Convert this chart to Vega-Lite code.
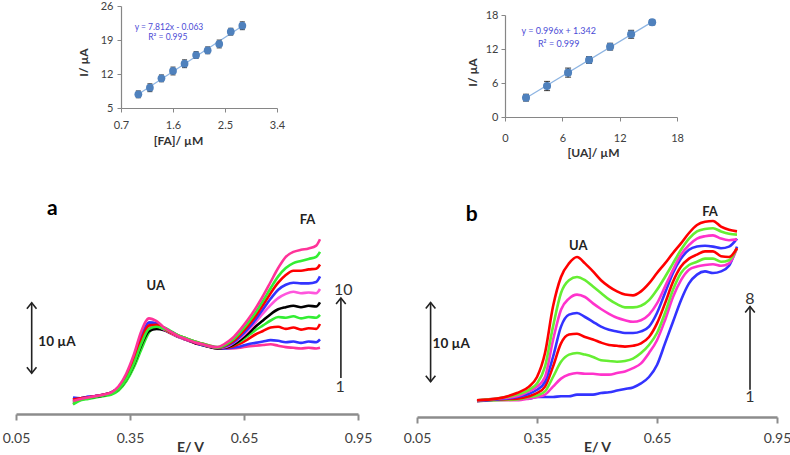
{
"$schema": "https://vega.github.io/schema/vega-lite/v6.json",
"width": 790, "height": 455, "autosize": "none", "padding": 0, "background": "white",
"config": {"view": {"stroke": null}, "font": "Lato", "axis": {"grid": false, "labelFont": "Lato", "titleFont": "Lato"}, "text": {"font": "Lato"}},
"datasets": {
"fa": [{"c":1.0,"I":7.82,"err":0.7},{"c":1.2,"I":9.18,"err":0.8},{"c":1.4,"I":11.11,"err":0.7},{"c":1.6,"I":12.62,"err":0.8},{"c":1.8,"I":14.12,"err":0.8},{"c":2.0,"I":15.91,"err":0.7},{"c":2.2,"I":16.88,"err":0.7},{"c":2.4,"I":18.18,"err":0.8},{"c":2.6,"I":20.71,"err":0.7},{"c":2.8,"I":21.94,"err":0.8}],
"ua": [{"c":2.2,"I":3.41,"err":0.6},{"c":4.4,"I":5.47,"err":0.8},{"c":6.6,"I":7.83,"err":0.8},{"c":8.8,"I":10.06,"err":0.6},{"c":11.0,"I":12.41,"err":0.6},{"c":13.2,"I":14.59,"err":0.7},{"c":15.4,"I":16.71,"err":0.45}],
"pa": [
{"E":0.20,"c01":1.6,"c02":2.5,"c03":2.2,"c04":1.5,"c05":2.0,"c06":2.1,"c07":2.3,"c08":2.2,"c09":1.8,"c10":2.0},
{"E":0.22,"c01":2.2,"c02":2.4,"c03":2.4,"c04":2.1,"c05":2.3,"c06":2.3,"c07":2.4,"c08":2.4,"c09":2.2,"c10":2.3},
{"E":0.24,"c01":2.4,"c02":2.6,"c03":2.5,"c04":2.3,"c05":2.5,"c06":2.5,"c07":2.6,"c08":2.5,"c09":2.4,"c10":2.5},
{"E":0.26,"c01":2.6,"c02":2.7,"c03":2.7,"c04":2.5,"c05":2.6,"c06":2.7,"c07":2.7,"c08":2.7,"c09":2.6,"c10":2.7},
{"E":0.28,"c01":2.8,"c02":2.9,"c03":2.9,"c04":2.7,"c05":2.8,"c06":2.9,"c07":2.9,"c08":2.9,"c09":2.8,"c10":2.9},
{"E":0.30,"c01":3.0,"c02":3.2,"c03":3.1,"c04":2.9,"c05":3.1,"c06":3.1,"c07":3.2,"c08":3.2,"c09":3.0,"c10":3.2},
{"E":0.32,"c01":3.6,"c02":3.9,"c03":3.8,"c04":3.5,"c05":3.7,"c06":3.8,"c07":4.0,"c08":3.9,"c09":3.7,"c10":4.1},
{"E":0.34,"c01":4.9,"c02":5.6,"c03":5.3,"c04":4.8,"c05":5.1,"c06":5.3,"c07":5.6,"c08":5.5,"c09":5.1,"c10":5.9},
{"E":0.36,"c01":7.0,"c02":8.0,"c03":7.5,"c04":6.8,"c05":7.2,"c06":7.6,"c07":8.1,"c08":7.8,"c09":7.3,"c10":8.6},
{"E":0.38,"c01":9.6,"c02":11.0,"c03":10.3,"c04":9.4,"c05":10.0,"c06":10.5,"c07":11.2,"c08":10.8,"c09":10.2,"c10":12.0},
{"E":0.40,"c01":11.9,"c02":13.2,"c03":12.5,"c04":11.8,"c05":12.0,"c06":12.6,"c07":13.2,"c08":12.8,"c09":12.3,"c10":13.8},
{"E":0.42,"c01":12.5,"c02":13.0,"c03":12.9,"c04":12.6,"c05":12.3,"c06":12.7,"c07":13.1,"c08":12.9,"c09":12.6,"c10":13.4},
{"E":0.44,"c01":12.3,"c02":12.4,"c03":12.4,"c04":12.5,"c05":12.1,"c06":12.2,"c07":12.4,"c08":12.3,"c09":12.3,"c10":12.5},
{"E":0.46,"c01":11.7,"c02":11.8,"c03":11.8,"c04":11.9,"c05":11.6,"c06":11.6,"c07":11.8,"c08":11.7,"c09":11.8,"c10":11.8},
{"E":0.48,"c01":11.2,"c02":11.2,"c03":11.3,"c04":11.3,"c05":11.1,"c06":11.1,"c07":11.2,"c08":11.2,"c09":11.3,"c10":11.2},
{"E":0.50,"c01":10.7,"c02":10.8,"c03":10.9,"c04":10.9,"c05":10.7,"c06":10.7,"c07":10.8,"c08":10.8,"c09":10.9,"c10":10.8},
{"E":0.52,"c01":10.3,"c02":10.4,"c03":10.5,"c04":10.5,"c05":10.3,"c06":10.4,"c07":10.4,"c08":10.4,"c09":10.5,"c10":10.4},
{"E":0.54,"c01":10.0,"c02":10.1,"c03":10.2,"c04":10.2,"c05":10.0,"c06":10.1,"c07":10.0,"c08":10.1,"c09":10.1,"c10":10.1},
{"E":0.56,"c01":9.7,"c02":9.8,"c03":9.9,"c04":9.9,"c05":9.7,"c06":9.8,"c07":9.8,"c08":9.8,"c09":9.8,"c10":9.8},
{"E":0.58,"c01":9.5,"c02":9.6,"c03":9.6,"c04":9.7,"c05":9.5,"c06":9.6,"c07":9.6,"c08":9.6,"c09":9.6,"c10":9.7},
{"E":0.60,"c01":9.5,"c02":9.5,"c03":9.6,"c04":9.7,"c05":9.6,"c06":9.7,"c07":9.8,"c08":9.9,"c09":10.0,"c10":10.2},
{"E":0.62,"c01":9.5,"c02":9.6,"c03":9.8,"c04":10.0,"c05":10.0,"c06":10.2,"c07":10.3,"c08":10.5,"c09":10.7,"c10":11.0},
{"E":0.64,"c01":9.6,"c02":9.8,"c03":10.2,"c04":10.5,"c05":10.7,"c06":11.0,"c07":11.2,"c08":11.5,"c09":11.8,"c10":12.2},
{"E":0.66,"c01":9.8,"c02":10.1,"c03":10.8,"c04":11.3,"c05":11.6,"c06":12.0,"c07":12.3,"c08":12.7,"c09":13.1,"c10":13.6},
{"E":0.68,"c01":9.9,"c02":10.3,"c03":11.5,"c04":12.1,"c05":12.6,"c06":13.2,"c07":13.6,"c08":14.1,"c09":14.6,"c10":15.2},
{"E":0.70,"c01":10.0,"c02":10.5,"c03":12.0,"c04":12.8,"c05":13.5,"c06":14.5,"c07":15.1,"c08":15.7,"c09":16.3,"c10":17.0},
{"E":0.72,"c01":10.1,"c02":10.7,"c03":12.5,"c04":13.5,"c05":14.4,"c06":15.7,"c07":16.6,"c08":17.4,"c09":18.1,"c10":19.0},
{"E":0.74,"c01":9.9,"c02":10.6,"c03":12.6,"c04":14.0,"c05":15.1,"c06":16.7,"c07":17.9,"c08":18.9,"c09":19.8,"c10":21.0},
{"E":0.76,"c01":9.7,"c02":10.4,"c03":12.3,"c04":13.9,"c05":15.4,"c06":17.3,"c07":18.6,"c08":20.0,"c09":21.0,"c10":22.6},
{"E":0.78,"c01":9.6,"c02":10.5,"c03":12.5,"c04":14.1,"c05":15.6,"c06":17.6,"c07":18.9,"c08":20.6,"c09":21.7,"c10":23.3},
{"E":0.80,"c01":9.5,"c02":10.3,"c03":12.2,"c04":13.8,"c05":15.4,"c06":17.4,"c07":18.8,"c08":20.6,"c09":22.0,"c10":23.6},
{"E":0.82,"c01":9.6,"c02":10.5,"c03":12.4,"c04":14.0,"c05":15.6,"c06":17.5,"c07":18.8,"c08":20.8,"c09":22.3,"c10":23.8},
{"E":0.84,"c01":9.5,"c02":10.4,"c03":12.3,"c04":13.9,"c05":15.5,"c06":17.4,"c07":19.0,"c08":20.9,"c09":22.6,"c10":24.2},
{"E":0.85,"c01":9.6,"c02":10.8,"c03":13.0,"c04":14.3,"c05":16.1,"c06":18.0,"c07":19.8,"c08":21.5,"c09":23.3,"c10":25.1}
],
"pb": [
{"E":0.20,"b1":2.0,"b2":2.0,"b3":2.0,"b4":2.0,"b5":2.0,"b6":2.1,"b7":2.1,"b8":2.1},
{"E":0.25,"b1":2.2,"b2":2.1,"b3":2.1,"b4":2.2,"b5":2.2,"b6":2.3,"b7":2.3,"b8":2.3},
{"E":0.30,"b1":2.3,"b2":2.1,"b3":2.2,"b4":2.3,"b5":2.5,"b6":2.6,"b7":2.8,"b8":3.0},
{"E":0.33,"b1":2.3,"b2":2.3,"b3":2.5,"b4":2.6,"b5":2.9,"b6":3.2,"b7":3.4,"b8":3.8},
{"E":0.35,"b1":2.5,"b2":2.5,"b3":2.7,"b4":3.0,"b5":3.4,"b6":3.8,"b7":4.2,"b8":5.0},
{"E":0.37,"b1":2.5,"b2":2.8,"b3":3.2,"b4":3.8,"b5":4.4,"b6":5.0,"b7":6.3,"b8":8.0},
{"E":0.39,"b1":2.5,"b2":3.8,"b3":5.0,"b4":6.3,"b5":7.5,"b6":9.6,"b7":11.3,"b8":13.8},
{"E":0.41,"b1":2.6,"b2":4.8,"b3":6.9,"b4":9.2,"b5":11.3,"b6":13.4,"b7":15.5,"b8":17.5},
{"E":0.43,"b1":2.6,"b2":5.3,"b3":7.8,"b4":10.3,"b5":12.8,"b6":14.8,"b7":17.1,"b8":19.2},
{"E":0.45,"b1":2.8,"b2":5.5,"b3":8.0,"b4":10.4,"b5":13.0,"b6":15.3,"b7":17.5,"b8":20.0},
{"E":0.47,"b1":2.8,"b2":5.4,"b3":7.8,"b4":10.0,"b5":12.5,"b6":15.0,"b7":17.1,"b8":19.2},
{"E":0.49,"b1":2.8,"b2":5.4,"b3":7.5,"b4":9.7,"b5":11.9,"b6":14.2,"b7":16.3,"b8":18.2},
{"E":0.51,"b1":3.0,"b2":5.3,"b3":7.1,"b4":9.3,"b5":11.3,"b6":13.5,"b7":15.5,"b8":17.1},
{"E":0.53,"b1":3.1,"b2":5.3,"b3":7.0,"b4":9.0,"b5":10.9,"b6":12.9,"b7":14.7,"b8":16.3},
{"E":0.55,"b1":3.3,"b2":5.5,"b3":6.9,"b4":8.9,"b5":10.7,"b6":12.4,"b7":14.1,"b8":15.7},
{"E":0.57,"b1":3.5,"b2":5.7,"b3":7.0,"b4":8.8,"b5":10.5,"b6":12.1,"b7":13.7,"b8":15.3},
{"E":0.59,"b1":3.7,"b2":6.1,"b3":7.3,"b4":8.9,"b5":10.5,"b6":11.9,"b7":13.7,"b8":15.2},
{"E":0.61,"b1":4.2,"b2":6.7,"b3":8.0,"b4":9.2,"b5":10.7,"b6":12.1,"b7":13.9,"b8":15.7},
{"E":0.63,"b1":5.0,"b2":8.0,"b3":9.0,"b4":10.0,"b5":11.3,"b6":12.8,"b7":14.6,"b8":16.7},
{"E":0.65,"b1":6.5,"b2":9.6,"b3":10.5,"b4":11.7,"b5":13.0,"b6":14.2,"b7":15.9,"b8":18.0},
{"E":0.67,"b1":9.2,"b2":12.1,"b3":13.0,"b4":14.2,"b5":15.5,"b6":16.3,"b7":17.5,"b8":19.2},
{"E":0.69,"b1":11.9,"b2":15.0,"b3":15.9,"b4":16.9,"b5":18.0,"b6":18.4,"b7":19.2,"b8":20.5},
{"E":0.71,"b1":14.6,"b2":17.1,"b3":18.0,"b4":18.8,"b5":19.8,"b6":20.3,"b7":20.9,"b8":21.7},
{"E":0.73,"b1":16.7,"b2":18.4,"b3":19.0,"b4":19.8,"b5":20.9,"b6":21.5,"b7":22.3,"b8":23.0},
{"E":0.75,"b1":17.8,"b2":18.8,"b3":19.4,"b4":20.3,"b5":21.3,"b6":22.3,"b7":23.2,"b8":24.0},
{"E":0.77,"b1":18.2,"b2":19.0,"b3":19.8,"b4":20.7,"b5":21.4,"b6":22.6,"b7":23.5,"b8":24.4},
{"E":0.79,"b1":18.0,"b2":19.1,"b3":19.8,"b4":20.7,"b5":21.3,"b6":22.7,"b7":23.6,"b8":24.5},
{"E":0.81,"b1":18.2,"b2":18.9,"b3":19.4,"b4":20.1,"b5":21.1,"b6":22.3,"b7":23.2,"b8":23.8},
{"E":0.83,"b1":18.9,"b2":19.2,"b3":19.6,"b4":20.0,"b5":21.3,"b6":22.1,"b7":22.9,"b8":23.4},
{"E":0.85,"b1":21.3,"b2":21.1,"b3":21.1,"b4":21.1,"b5":22.3,"b6":22.2,"b7":22.8,"b8":23.2}
]
},
"layer": [
{"data": {"name": "fa"}, "transform": [{"regression": "I", "on": "c"}], "mark": {"type": "line", "color": "#8DB4E2", "strokeWidth": 1.2},
 "encoding": {"x": {"field": "c", "type": "quantitative", "scale": {"domain": [0.7, 3.4], "range": [121, 277], "nice": false, "zero": false}, "axis": null},
  "y": {"field": "I", "type": "quantitative", "scale": {"domain": [5, 26], "range": [108, 6], "nice": false, "zero": false}, "axis": null}}},
{"data": {"name": "fa"}, "mark": {"type": "errorbar", "ticks": {"size": 5}, "color": "#111111", "thickness": 1.2},
 "encoding": {"x": {"field": "c", "type": "quantitative", "scale": {"domain": [0.7, 3.4], "range": [121, 277], "nice": false, "zero": false}, "axis": null},
  "y": {"field": "I", "type": "quantitative", "scale": {"domain": [5, 26], "range": [108, 6], "nice": false, "zero": false}, "axis": null},
  "yError": {"field": "err"}}},
{"data": {"name": "fa"}, "mark": {"type": "point", "filled": true, "shape": "circle", "size": 60, "color": "#4F81BD", "opacity": 1},
 "encoding": {"x": {"field": "c", "type": "quantitative", "scale": {"domain": [0.7, 3.4], "range": [121, 277], "nice": false, "zero": false},
   "axis": {"orient": "bottom", "offset": -347, "values": [0.7, 1.6, 2.5, 3.4], "format": ".1f", "title": "[FA]/ µM", "titleX": 178, "titleY": 32, "titleBaseline": "middle", "titleAlign": "center", "titleFontSize": 12, "titleFontWeight": "bold", "titleColor": "#333333", "labelFontSize": 11, "labelColor": "#404040", "labelPadding": 7, "labelFlush": false, "labelOverlap": false, "tickSize": 4, "tickColor": "#868686", "domainColor": "#868686", "domainWidth": 1.2}},
  "y": {"field": "I", "type": "quantitative", "scale": {"domain": [5, 26], "range": [108, 6], "nice": false, "zero": false},
   "axis": {"orient": "left", "offset": -121, "values": [5, 12, 19, 26], "title": "I/ µA", "titleX": -38, "titleY": 62, "titleBaseline": "middle", "titleAlign": "center", "titleFontSize": 12, "titleFontWeight": "bold", "titleColor": "#333333", "labelFontSize": 11, "labelColor": "#404040", "labelPadding": 4, "labelFlush": false, "labelOverlap": false, "tickSize": 4, "tickColor": "#868686", "domainColor": "#868686", "domainWidth": 1.2}}}},
{"data": {"values": [{}]}, "mark": {"type": "text", "text": "y = 7.812x - 0.063", "fontSize": 8.5, "color": "#4B4BD6", "align": "center", "baseline": "middle"},
 "encoding": {"x": {"datum": 1.53, "type": "quantitative", "scale": {"domain": [0.7, 3.4], "range": [121, 277], "nice": false, "zero": false}, "axis": null},
  "y": {"datum": 21.7, "type": "quantitative", "scale": {"domain": [5, 26], "range": [108, 6], "nice": false, "zero": false}, "axis": null}}},
{"data": {"values": [{}]}, "mark": {"type": "text", "text": "R² = 0.995", "fontSize": 8.5, "color": "#4B4BD6", "align": "center", "baseline": "middle"},
 "encoding": {"x": {"datum": 1.51, "type": "quantitative", "scale": {"domain": [0.7, 3.4], "range": [121, 277], "nice": false, "zero": false}, "axis": null},
  "y": {"datum": 19.6, "type": "quantitative", "scale": {"domain": [5, 26], "range": [108, 6], "nice": false, "zero": false}, "axis": null}}},
{"data": {"name": "ua"}, "transform": [{"regression": "I", "on": "c"}], "mark": {"type": "line", "color": "#8DB4E2", "strokeWidth": 1.2},
 "encoding": {"x": {"field": "c", "type": "quantitative", "scale": {"domain": [0, 18], "range": [505, 677], "nice": false, "zero": false}, "axis": null},
  "y": {"field": "I", "type": "quantitative", "scale": {"domain": [0, 18], "range": [117, 15], "nice": false, "zero": false}, "axis": null}}},
{"data": {"name": "ua"}, "mark": {"type": "errorbar", "ticks": {"size": 6}, "color": "#111111", "thickness": 1.2},
 "encoding": {"x": {"field": "c", "type": "quantitative", "scale": {"domain": [0, 18], "range": [505, 677], "nice": false, "zero": false}, "axis": null},
  "y": {"field": "I", "type": "quantitative", "scale": {"domain": [0, 18], "range": [117, 15], "nice": false, "zero": false}, "axis": null},
  "yError": {"field": "err"}}},
{"data": {"name": "ua"}, "mark": {"type": "point", "filled": true, "shape": "circle", "size": 65, "color": "#4F81BD", "opacity": 1},
 "encoding": {"x": {"field": "c", "type": "quantitative", "scale": {"domain": [0, 18], "range": [505, 677], "nice": false, "zero": false},
   "axis": {"orient": "bottom", "offset": -338, "values": [0, 6, 12, 18], "title": "[UA]/ µM", "titleX": 593, "titleY": 35, "titleBaseline": "middle", "titleAlign": "center", "titleFontSize": 12, "titleFontWeight": "bold", "titleColor": "#333333", "labelFontSize": 11, "labelColor": "#404040", "labelPadding": 11, "labelFlush": false, "labelOverlap": false, "tickSize": 4, "tickColor": "#868686", "domainColor": "#868686", "domainWidth": 1.2}},
  "y": {"field": "I", "type": "quantitative", "scale": {"domain": [0, 18], "range": [117, 15], "nice": false, "zero": false},
   "axis": {"orient": "left", "offset": -505, "values": [0, 6, 12, 18], "title": "I/ µA", "titleX": -33, "titleY": 72, "titleBaseline": "middle", "titleAlign": "center", "titleFontSize": 12, "titleFontWeight": "bold", "titleColor": "#333333", "labelFontSize": 11, "labelColor": "#404040", "labelPadding": 3, "labelFlush": false, "labelOverlap": false, "tickSize": 4, "tickColor": "#868686", "domainColor": "#868686", "domainWidth": 1.2}}}},
{"data": {"values": [{}]}, "mark": {"type": "text", "text": "y = 0.996x + 1.342", "fontSize": 9, "color": "#4B4BD6", "align": "center", "baseline": "middle"},
 "encoding": {"x": {"datum": 5.62, "type": "quantitative", "scale": {"domain": [0, 18], "range": [505, 677], "nice": false, "zero": false}, "axis": null},
  "y": {"datum": 15.2, "type": "quantitative", "scale": {"domain": [0, 18], "range": [117, 15], "nice": false, "zero": false}, "axis": null}}},
{"data": {"values": [{}]}, "mark": {"type": "text", "text": "R² = 0.999", "fontSize": 9, "color": "#4B4BD6", "align": "center", "baseline": "middle"},
 "encoding": {"x": {"datum": 5.62, "type": "quantitative", "scale": {"domain": [0, 18], "range": [505, 677], "nice": false, "zero": false}, "axis": null},
  "y": {"datum": 12.9, "type": "quantitative", "scale": {"domain": [0, 18], "range": [117, 15], "nice": false, "zero": false}, "axis": null}}},
{"data": {"name": "pa"}, "transform": [{"fold": ["c01","c02","c03","c04","c05","c06","c07","c08","c09","c10"], "as": ["curve", "I"]}],
 "mark": {"type": "line", "strokeWidth": 2.6, "interpolate": "monotone"},
 "encoding": {"x": {"field": "E", "type": "quantitative", "scale": {"domain": [0.05, 0.95], "range": [16, 358], "nice": false, "zero": false},
   "axis": {"orient": "bottom", "offset": -41, "values": [0.05, 0.35, 0.65, 0.95], "format": ".2f", "title": "E/ V", "titleX": 190, "titleY": 33, "titleBaseline": "middle", "titleAlign": "center", "titleFontSize": 14, "titleFontWeight": "bold", "titleColor": "#333333", "labelFontSize": 14, "labelColor": "#404040", "labelPadding": 11, "labelFlush": false, "labelOverlap": false, "tickSize": 6, "tickWidth": 2, "tickColor": "#8c8c8c", "domainColor": "#8c8c8c", "domainWidth": 2.5}},
  "y": {"field": "I", "type": "quantitative", "scale": {"domain": [0, 50], "range": [415, 65], "nice": false, "zero": false}, "axis": null},
  "color": {"field": "curve", "type": "nominal", "scale": {"domain": ["c01","c02","c03","c04","c05","c06","c07","c08","c09","c10"], "range": ["#FF3399","#3333FF","#FF0000","#33EE33","#000000","#FF55DD","#3333FF","#FF0000","#33EE33","#FF3399"]}, "legend": null}}},
{"data": {"values": [{}]}, "mark": {"type": "text", "text": "a", "fontSize": 21, "fontWeight": "bold", "color": "#000000", "align": "center", "baseline": "middle"},
 "encoding": {"x": {"datum": 0.1455, "type": "quantitative", "scale": {"domain": [0.05, 0.95], "range": [16, 358], "nice": false, "zero": false}, "axis": null},
  "y": {"datum": 29.4, "type": "quantitative", "scale": {"domain": [0, 50], "range": [415, 65], "nice": false, "zero": false}, "axis": null}}},
{"data": {"values": [{}]}, "mark": {"type": "text", "text": "UA", "fontSize": 13, "fontWeight": "bold", "color": "#222222", "align": "center", "baseline": "middle"},
 "encoding": {"x": {"datum": 0.418, "type": "quantitative", "scale": {"domain": [0.05, 0.95], "range": [16, 358], "nice": false, "zero": false}, "axis": null},
  "y": {"datum": 18.5, "type": "quantitative", "scale": {"domain": [0, 50], "range": [415, 65], "nice": false, "zero": false}, "axis": null}}},
{"data": {"values": [{}]}, "mark": {"type": "text", "text": "FA", "fontSize": 13, "fontWeight": "bold", "color": "#222222", "align": "center", "baseline": "middle"},
 "encoding": {"x": {"datum": 0.817, "type": "quantitative", "scale": {"domain": [0.05, 0.95], "range": [16, 358], "nice": false, "zero": false}, "axis": null},
  "y": {"datum": 27.9, "type": "quantitative", "scale": {"domain": [0, 50], "range": [415, 65], "nice": false, "zero": false}, "axis": null}}},
{"data": {"values": [{}]}, "mark": {"type": "text", "text": "10 µA", "fontSize": 13.5, "fontWeight": "bold", "color": "#222222", "align": "left", "baseline": "middle"},
 "encoding": {"x": {"datum": 0.1087, "type": "quantitative", "scale": {"domain": [0.05, 0.95], "range": [16, 358], "nice": false, "zero": false}, "axis": null},
  "y": {"datum": 10.5, "type": "quantitative", "scale": {"domain": [0, 50], "range": [415, 65], "nice": false, "zero": false}, "axis": null}}},
{"data": {"values": [{}]}, "mark": {"type": "text", "text": "10", "fontSize": 16, "color": "#333333", "align": "center", "baseline": "middle"},
 "encoding": {"x": {"datum": 0.911, "type": "quantitative", "scale": {"domain": [0.05, 0.95], "range": [16, 358], "nice": false, "zero": false}, "axis": null},
  "y": {"datum": 17.9, "type": "quantitative", "scale": {"domain": [0, 50], "range": [415, 65], "nice": false, "zero": false}, "axis": null}}},
{"data": {"values": [{}]}, "mark": {"type": "text", "text": "1", "fontSize": 16, "color": "#333333", "align": "center", "baseline": "middle"},
 "encoding": {"x": {"datum": 0.903, "type": "quantitative", "scale": {"domain": [0.05, 0.95], "range": [16, 358], "nice": false, "zero": false}, "axis": null},
  "y": {"datum": 4.0, "type": "quantitative", "scale": {"domain": [0, 50], "range": [415, 65], "nice": false, "zero": false}, "axis": null}}},
{"data": {"values": [{}]}, "mark": {"type": "rule", "strokeWidth": 1.6, "color": "#222222"},
 "encoding": {"x": {"datum": 0.0913, "type": "quantitative", "scale": {"domain": [0.05, 0.95], "range": [16, 358], "nice": false, "zero": false}, "axis": null},
  "y": {"datum": 5.96, "type": "quantitative", "scale": {"domain": [0, 50], "range": [415, 65], "nice": false, "zero": false}, "axis": null},
  "y2": {"datum": 16.04}}},
{"data": {"values": [{}]}, "mark": {"type": "point", "shape": "M-0.8,1L0,0L0.8,1", "size": 144, "filled": false, "stroke": "#222222", "strokeWidth": 1.6, "opacity": 1},
 "encoding": {"x": {"datum": 0.0913, "type": "quantitative", "scale": {"domain": [0.05, 0.95], "range": [16, 358], "nice": false, "zero": false}, "axis": null},
  "y": {"datum": 16.04, "type": "quantitative", "scale": {"domain": [0, 50], "range": [415, 65], "nice": false, "zero": false}, "axis": null}}},
{"data": {"values": [{}]}, "mark": {"type": "point", "shape": "M-0.8,-1L0,0L0.8,-1", "size": 144, "filled": false, "stroke": "#222222", "strokeWidth": 1.6, "opacity": 1},
 "encoding": {"x": {"datum": 0.0913, "type": "quantitative", "scale": {"domain": [0.05, 0.95], "range": [16, 358], "nice": false, "zero": false}, "axis": null},
  "y": {"datum": 5.96, "type": "quantitative", "scale": {"domain": [0, 50], "range": [415, 65], "nice": false, "zero": false}, "axis": null}}},
{"data": {"values": [{}]}, "mark": {"type": "rule", "strokeWidth": 1.6, "color": "#222222"},
 "encoding": {"x": {"datum": 0.905, "type": "quantitative", "scale": {"domain": [0.05, 0.95], "range": [16, 358], "nice": false, "zero": false}, "axis": null},
  "y": {"datum": 5.3, "type": "quantitative", "scale": {"domain": [0, 50], "range": [415, 65], "nice": false, "zero": false}, "axis": null},
  "y2": {"datum": 16.7}}},
{"data": {"values": [{}]}, "mark": {"type": "point", "shape": "M-0.8,1L0,0L0.8,1", "size": 144, "filled": false, "stroke": "#222222", "strokeWidth": 1.6, "opacity": 1},
 "encoding": {"x": {"datum": 0.905, "type": "quantitative", "scale": {"domain": [0.05, 0.95], "range": [16, 358], "nice": false, "zero": false}, "axis": null},
  "y": {"datum": 16.7, "type": "quantitative", "scale": {"domain": [0, 50], "range": [415, 65], "nice": false, "zero": false}, "axis": null}}},
{"data": {"name": "pb"}, "transform": [{"fold": ["b1","b2","b3","b4","b5","b6","b7","b8"], "as": ["curve", "I"]}],
 "mark": {"type": "line", "strokeWidth": 2.6, "interpolate": "monotone"},
 "encoding": {"x": {"field": "E", "type": "quantitative", "scale": {"domain": [0.05, 0.95], "range": [417, 777], "nice": false, "zero": false},
   "axis": {"orient": "bottom", "offset": -38, "values": [0.05, 0.35, 0.65, 0.95], "format": ".2f", "title": "E/ V", "titleX": 597, "titleY": 30, "titleBaseline": "middle", "titleAlign": "center", "titleFontSize": 14, "titleFontWeight": "bold", "titleColor": "#333333", "labelFontSize": 14, "labelColor": "#404040", "labelPadding": 8, "labelFlush": false, "labelOverlap": false, "tickSize": 6, "tickWidth": 2, "tickColor": "#8c8c8c", "domainColor": "#8c8c8c", "domainWidth": 2.5}},
  "y": {"field": "I", "type": "quantitative", "scale": {"domain": [0, 50], "range": [417, 17], "nice": false, "zero": false}, "axis": null},
  "color": {"field": "curve", "type": "nominal", "scale": {"domain": ["b1","b2","b3","b4","b5","b6","b7","b8"], "range": ["#3333FF","#FF33CC","#66EE33","#FF0000","#3333FF","#FF33CC","#66EE33","#FF0000"]}, "legend": null}}},
{"data": {"values": [{}]}, "mark": {"type": "text", "text": "b", "fontSize": 21, "fontWeight": "bold", "color": "#000000", "align": "center", "baseline": "middle"},
 "encoding": {"x": {"datum": 0.187, "type": "quantitative", "scale": {"domain": [0.05, 0.95], "range": [417, 777], "nice": false, "zero": false}, "axis": null},
  "y": {"datum": 25.25, "type": "quantitative", "scale": {"domain": [0, 50], "range": [417, 17], "nice": false, "zero": false}, "axis": null}}},
{"data": {"values": [{}]}, "mark": {"type": "text", "text": "UA", "fontSize": 13, "fontWeight": "bold", "color": "#222222", "align": "center", "baseline": "middle"},
 "encoding": {"x": {"datum": 0.453, "type": "quantitative", "scale": {"domain": [0.05, 0.95], "range": [417, 777], "nice": false, "zero": false}, "axis": null},
  "y": {"datum": 21.4, "type": "quantitative", "scale": {"domain": [0, 50], "range": [417, 17], "nice": false, "zero": false}, "axis": null}}},
{"data": {"values": [{}]}, "mark": {"type": "text", "text": "FA", "fontSize": 13, "fontWeight": "bold", "color": "#222222", "align": "center", "baseline": "middle"},
 "encoding": {"x": {"datum": 0.7825, "type": "quantitative", "scale": {"domain": [0.05, 0.95], "range": [417, 777], "nice": false, "zero": false}, "axis": null},
  "y": {"datum": 25.6, "type": "quantitative", "scale": {"domain": [0, 50], "range": [417, 17], "nice": false, "zero": false}, "axis": null}}},
{"data": {"values": [{}]}, "mark": {"type": "text", "text": "10 µA", "fontSize": 13.5, "fontWeight": "bold", "color": "#222222", "align": "left", "baseline": "middle"},
 "encoding": {"x": {"datum": 0.089, "type": "quantitative", "scale": {"domain": [0.05, 0.95], "range": [417, 777], "nice": false, "zero": false}, "axis": null},
  "y": {"datum": 9.1, "type": "quantitative", "scale": {"domain": [0, 50], "range": [417, 17], "nice": false, "zero": false}, "axis": null}}},
{"data": {"values": [{}]}, "mark": {"type": "text", "text": "8", "fontSize": 16, "color": "#333333", "align": "center", "baseline": "middle"},
 "encoding": {"x": {"datum": 0.8825, "type": "quantitative", "scale": {"domain": [0.05, 0.95], "range": [417, 777], "nice": false, "zero": false}, "axis": null},
  "y": {"datum": 14.8, "type": "quantitative", "scale": {"domain": [0, 50], "range": [417, 17], "nice": false, "zero": false}, "axis": null}}},
{"data": {"values": [{}]}, "mark": {"type": "text", "text": "1", "fontSize": 16, "color": "#333333", "align": "center", "baseline": "middle"},
 "encoding": {"x": {"datum": 0.8825, "type": "quantitative", "scale": {"domain": [0.05, 0.95], "range": [417, 777], "nice": false, "zero": false}, "axis": null},
  "y": {"datum": 2.5, "type": "quantitative", "scale": {"domain": [0, 50], "range": [417, 17], "nice": false, "zero": false}, "axis": null}}},
{"data": {"values": [{}]}, "mark": {"type": "rule", "strokeWidth": 1.6, "color": "#222222"},
 "encoding": {"x": {"datum": 0.084, "type": "quantitative", "scale": {"domain": [0.05, 0.95], "range": [417, 777], "nice": false, "zero": false}, "axis": null},
  "y": {"datum": 4.4, "type": "quantitative", "scale": {"domain": [0, 50], "range": [417, 17], "nice": false, "zero": false}, "axis": null},
  "y2": {"datum": 14.3}}},
{"data": {"values": [{}]}, "mark": {"type": "point", "shape": "M-0.8,1L0,0L0.8,1", "size": 144, "filled": false, "stroke": "#222222", "strokeWidth": 1.6, "opacity": 1},
 "encoding": {"x": {"datum": 0.084, "type": "quantitative", "scale": {"domain": [0.05, 0.95], "range": [417, 777], "nice": false, "zero": false}, "axis": null},
  "y": {"datum": 14.3, "type": "quantitative", "scale": {"domain": [0, 50], "range": [417, 17], "nice": false, "zero": false}, "axis": null}}},
{"data": {"values": [{}]}, "mark": {"type": "point", "shape": "M-0.8,-1L0,0L0.8,-1", "size": 144, "filled": false, "stroke": "#222222", "strokeWidth": 1.6, "opacity": 1},
 "encoding": {"x": {"datum": 0.084, "type": "quantitative", "scale": {"domain": [0.05, 0.95], "range": [417, 777], "nice": false, "zero": false}, "axis": null},
  "y": {"datum": 4.4, "type": "quantitative", "scale": {"domain": [0, 50], "range": [417, 17], "nice": false, "zero": false}, "axis": null}}},
{"data": {"values": [{}]}, "mark": {"type": "rule", "strokeWidth": 1.6, "color": "#222222"},
 "encoding": {"x": {"datum": 0.8825, "type": "quantitative", "scale": {"domain": [0.05, 0.95], "range": [417, 777], "nice": false, "zero": false}, "axis": null},
  "y": {"datum": 3.4, "type": "quantitative", "scale": {"domain": [0, 50], "range": [417, 17], "nice": false, "zero": false}, "axis": null},
  "y2": {"datum": 13.8}}},
{"data": {"values": [{}]}, "mark": {"type": "point", "shape": "M-0.8,1L0,0L0.8,1", "size": 144, "filled": false, "stroke": "#222222", "strokeWidth": 1.6, "opacity": 1},
 "encoding": {"x": {"datum": 0.8825, "type": "quantitative", "scale": {"domain": [0.05, 0.95], "range": [417, 777], "nice": false, "zero": false}, "axis": null},
  "y": {"datum": 13.8, "type": "quantitative", "scale": {"domain": [0, 50], "range": [417, 17], "nice": false, "zero": false}, "axis": null}}}
],
"resolve": {"scale": {"x": "independent", "y": "independent", "color": "independent"}, "axis": {"x": "independent", "y": "independent"}}
}
